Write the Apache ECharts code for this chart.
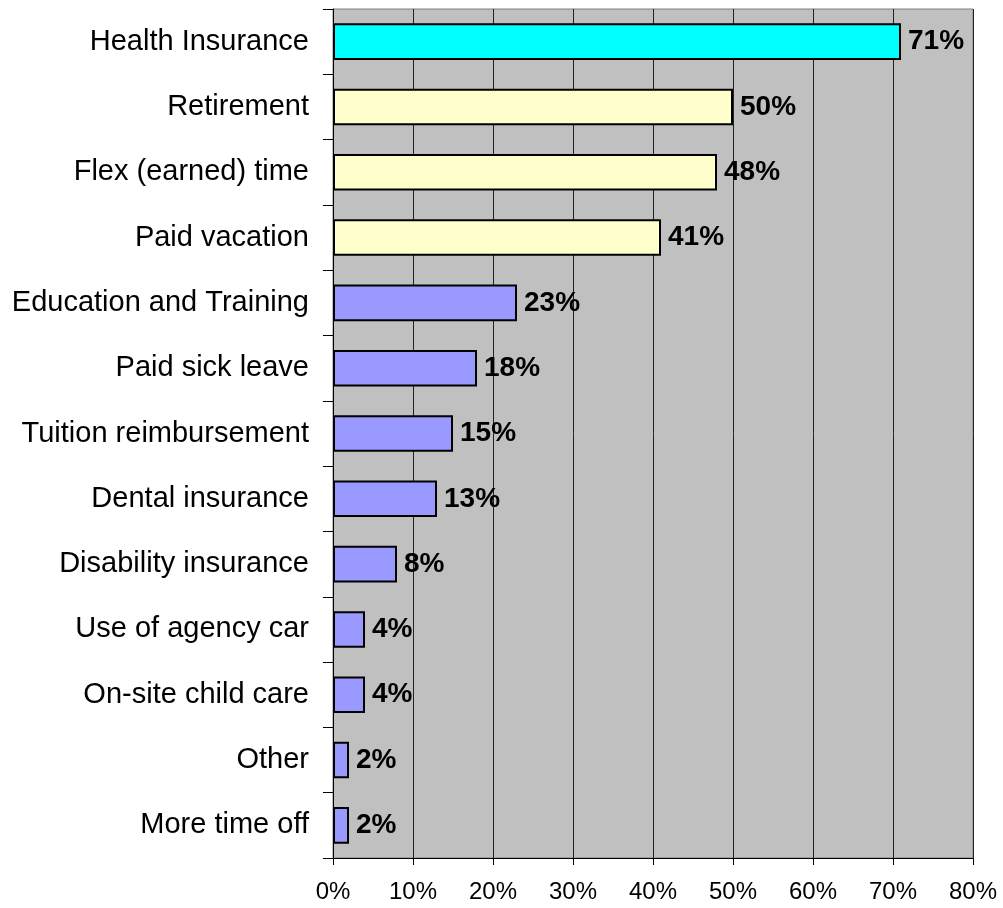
<!DOCTYPE html>
<html>
<head>
<meta charset="utf-8">
<script src="https://cdn.jsdelivr.net/npm/echarts@6/dist/echarts.min.js"></script>
<style>
  html, body { margin: 0; padding: 0; background: #fff; }
  #chart { width: 1003px; height: 908px; }
</style>
</head>
<body>
<div id="chart"></div>
<script>
const categories = [
  'Health Insurance', 'Retirement', 'Flex (earned) time', 'Paid vacation',
  'Education and Training', 'Paid sick leave', 'Tuition reimbursement',
  'Dental insurance', 'Disability insurance', 'Use of agency car',
  'On-site child care', 'Other', 'More time off'
];
const values = [71, 50, 48, 41, 23, 18, 15, 13, 8, 4, 4, 2, 2];
// 0 = top benefit, 1 = next tier, 2 = rest
const tiers = [0, 1, 1, 1, 2, 2, 2, 2, 2, 2, 2, 2, 2];
const tierColors = ['#00FFFF', '#FFFFCC', '#9999FF'];
const xTicks = [0, 10, 20, 30, 40, 50, 60, 70, 80];

const chart = echarts.init(document.getElementById('chart'));

chart.setOption({
  animation: false,
  textStyle: { fontFamily: '"Liberation Sans", Arial, sans-serif' },
  grid: {
    left: 333, right: 30, top: 9, bottom: 50,
    show: true,
    backgroundColor: '#C0C0C0',
    borderColor: '#808080',
    borderWidth: 1
  },
  xAxis: {
    type: 'value',
    min: xTicks[0],
    max: xTicks[xTicks.length - 1],
    interval: 10,
    axisLine: { show: true, lineStyle: { color: '#000', width: 1 } },
    axisTick: { show: true, length: 7, lineStyle: { color: '#000' } },
    axisLabel: {
      color: '#000', fontSize: 24, margin: 22,
      formatter: v => v + '%'
    },
    splitLine: { show: true, lineStyle: { color: '#222', width: 1 } }
  },
  yAxis: {
    type: 'category',
    inverse: true,
    data: categories,
    axisLine: { show: true, lineStyle: { color: '#000', width: 1 } },
    axisTick: { show: true, length: 10, alignWithLabel: false, lineStyle: { color: '#000' } },
    axisLabel: { color: '#000', fontSize: 29, margin: 24 },
    splitLine: { show: false }
  },
  series: [{
    type: 'bar',
    barCategoryGap: '44%',
    data: values.map((v, i) => ({
      value: v,
      itemStyle: { color: tierColors[tiers[i]] }
    })),
    itemStyle: { borderColor: '#000', borderWidth: 2 },
    label: {
      show: true,
      position: 'right',
      distance: 7,
      color: '#000',
      fontSize: 28,
      fontWeight: 'bold',
      formatter: p => p.value + '%'
    }
  }]
});
</script>
</body>
</html>
